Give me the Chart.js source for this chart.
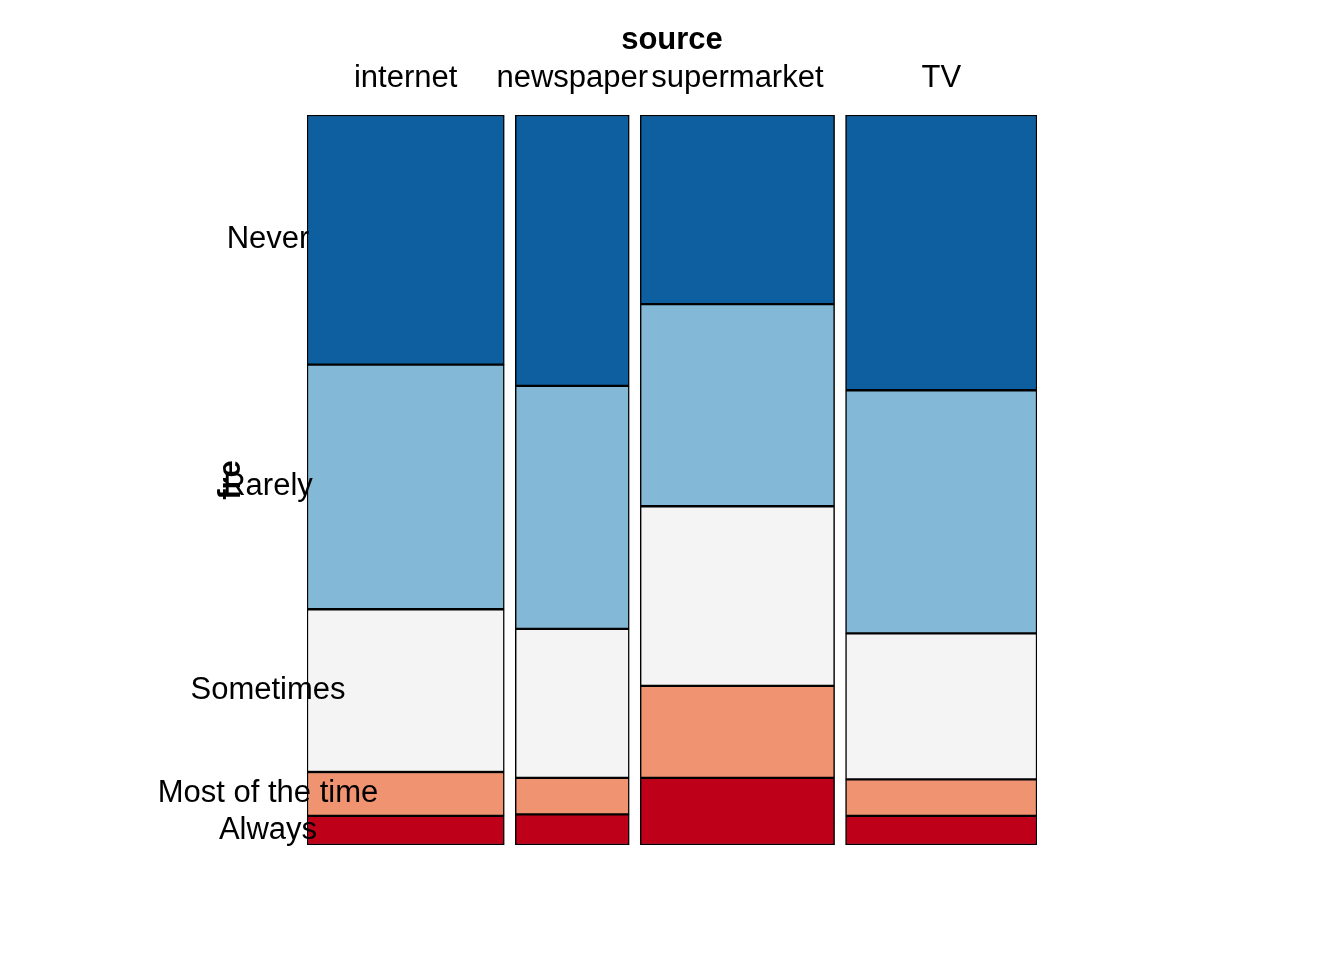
<!DOCTYPE html>
<html>
<head>
<meta charset="utf-8">
<script src="https://cdn.jsdelivr.net/npm/chart.js@4"></script>
<style>
  body { margin: 0; background: #fff; }
  #wrap { width: 1344px; height: 960px; }
</style>
</head>
<body>
<div id="wrap"><canvas id="mosaic"></canvas></div>
<script>
const sources = ['internet', 'newspaper', 'supermarket', 'TV'];
const sourceTotals = [270, 156, 266, 262];
const levels = ['Always', 'Most of the time', 'Sometimes', 'Rarely', 'Never'];
const levelColors = ['#BE0019', '#EF9370', '#F4F4F4', '#83B8D7', '#0E5FA0'];
// share of each level within each source (bottom to top)
const internetShares = [0.040, 0.060, 0.223, 0.335, 0.342];
const newspaperShares = [0.042, 0.050, 0.204, 0.333, 0.371];
const supermarketShares = [0.092, 0.126, 0.246, 0.277, 0.259];
const tvShares = [0.040, 0.050, 0.200, 0.333, 0.377];
const shares = [internetShares, newspaperShares, supermarketShares, tvShares];

const gap = 15;
const total = sourceTotals.reduce((a, b) => a + b, 0) + gap * (sources.length - 1);
const areaW = 730;
const pxPerUnit = areaW / total;

const centers = [];
let pos = 0;
sourceTotals.forEach(w => { centers.push(pos + w / 2); pos += w + gap; });

const datasets = [];
sources.forEach((s, si) => {
  let lo = 0;
  levels.forEach((lv, li) => {
    const hi = lo + shares[si][li];
    datasets.push({
      label: s + ' ' + lv,
      data: [{ x: centers[si], y: [lo, li === levels.length - 1 ? 1 : hi] }],
      backgroundColor: levelColors[li],
      borderColor: '#000',
      borderWidth: 1.5,
      borderSkipped: false,
      grouped: false,
      barThickness: sourceTotals[si] * pxPerUnit
    });
    lo = hi;
  });
});

const labelPlugin = {
  id: 'labels',
  afterDraw(chart) {
    const c = chart.ctx, x = chart.scales.x, y = chart.scales.y;
    c.save();
    c.fillStyle = '#000';
    c.textAlign = 'center';
    c.textBaseline = 'middle';
    c.font = 'bold 31px "Liberation Sans", Arial';
    c.fillText('source', (x.left + x.right) / 2, 40);
    c.font = '31px "Liberation Sans", Arial';
    sources.forEach((s, i) => c.fillText(s, x.getPixelForValue(centers[i]), 78));
    let lo = 0;
    levels.forEach((lv, li) => {
      const hi = li === levels.length - 1 ? 1 : lo + internetShares[li];
      c.fillText(lv, 268, y.getPixelForValue((lo + hi) / 2));
      lo = hi;
    });
    c.translate(231, 480);
    c.rotate(-Math.PI / 2);
    c.font = 'bold 31px "Liberation Sans", Arial';
    c.fillText('fre', 0, 0);
    c.restore();
  }
};

new Chart(document.getElementById('mosaic'), {
  type: 'bar',
  data: { datasets },
  options: {
    responsive: true,
    maintainAspectRatio: false,
    animation: false,
    layout: { padding: { left: 307, right: 307, top: 115, bottom: 115 } },
    scales: {
      x: { type: 'linear', min: 0, max: total, offset: false, display: false },
      y: { min: 0, max: 1, display: false }
    },
    plugins: { legend: { display: false }, tooltip: { enabled: false } }
  },
  plugins: [labelPlugin]
});
</script>
</body>
</html>
